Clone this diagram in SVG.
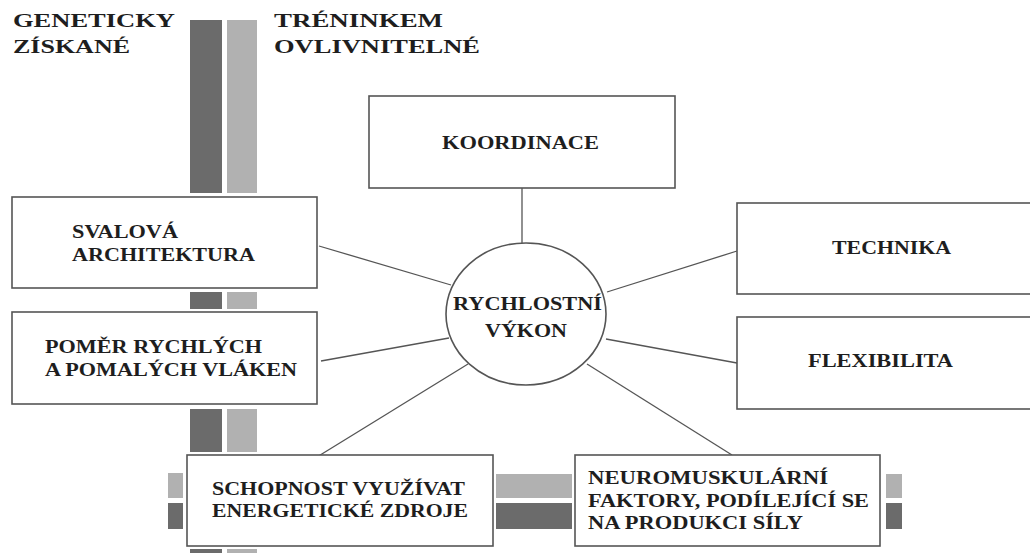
<svg xmlns="http://www.w3.org/2000/svg" width="1030" height="553" viewBox="0 0 1030 553">
<style>
.bg{fill:#ffffff}
.dark{fill:#6b6b6b}
.light{fill:#b1b1b1}
.box{fill:#ffffff;stroke:#555555;stroke-width:1.6}
.conn{stroke:#555555;stroke-width:1.3;fill:none}
.t{font-family:"Liberation Serif","Times New Roman",serif;font-weight:bold;font-size:18px;fill:#1e1e1e}
</style>
<rect class="bg" x="0" y="0" width="1030" height="553"/>
<g id="bars">
<rect class="dark" x="190" y="20" width="32" height="173"/>
<rect class="light" x="227" y="20" width="30" height="173"/>
<rect class="dark" x="190" y="292" width="32" height="17"/>
<rect class="light" x="227" y="292" width="30" height="17"/>
<rect class="dark" x="190" y="409" width="32" height="43"/>
<rect class="light" x="227" y="409" width="30" height="43"/>
<rect class="dark" x="190" y="549" width="32" height="10"/>
<rect class="light" x="227" y="549" width="30" height="10"/>
<rect class="light" x="168" y="473" width="15" height="25"/>
<rect class="dark" x="168" y="503" width="15" height="26"/>
<rect class="light" x="496" y="474" width="76" height="24"/>
<rect class="dark" x="496" y="503" width="76" height="26"/>
<rect class="light" x="886" y="474" width="16" height="24"/>
<rect class="dark" x="886" y="503" width="16" height="26"/>
</g>
<g id="legend">
<text class="t" x="13" y="27" textLength="162" lengthAdjust="spacingAndGlyphs">GENETICKY</text>
<text class="t" x="13" y="53" textLength="117" lengthAdjust="spacingAndGlyphs">ZÍSKANÉ</text>
<text class="t" x="274" y="27" textLength="169" lengthAdjust="spacingAndGlyphs">TRÉNINKEM</text>
<text class="t" x="274" y="53" textLength="206" lengthAdjust="spacingAndGlyphs">OVLIVNITELNÉ</text>
</g>
<g id="connectors">
<line class="conn" x1="522" y1="188" x2="522" y2="243"/>
<line class="conn" x1="319" y1="246" x2="451" y2="285"/>
<line class="conn" x1="321" y1="361" x2="449" y2="338"/>
<line class="conn" x1="317" y1="457" x2="468" y2="364"/>
<line class="conn" x1="607" y1="292" x2="737" y2="251"/>
<line class="conn" x1="606" y1="339" x2="737" y2="363"/>
<line class="conn" x1="587" y1="364" x2="732" y2="455"/>
</g>
<g id="koordinace">
<rect class="box" x="369" y="96" width="306" height="92"/>
<text class="t" x="442" y="149" textLength="157" lengthAdjust="spacingAndGlyphs">KOORDINACE</text>
</g>
<g id="rychlostni-vykon">
<ellipse class="box" cx="526" cy="314" rx="80" ry="71"/>
<text class="t" x="453" y="310" textLength="149" lengthAdjust="spacingAndGlyphs">RYCHLOSTNÍ</text>
<text class="t" x="485" y="337" textLength="82" lengthAdjust="spacingAndGlyphs">VÝKON</text>
</g>
<g id="svalova-architektura">
<rect class="box" x="12" y="197" width="305" height="91"/>
<text class="t" x="72" y="238" textLength="106" lengthAdjust="spacingAndGlyphs">SVALOVÁ</text>
<text class="t" x="72" y="261" textLength="183" lengthAdjust="spacingAndGlyphs">ARCHITEKTURA</text>
</g>
<g id="pomer">
<rect class="box" x="12" y="312" width="305" height="92"/>
<text class="t" x="45" y="353" textLength="217" lengthAdjust="spacingAndGlyphs">POMĚR RYCHLÝCH</text>
<text class="t" x="45" y="376" textLength="252" lengthAdjust="spacingAndGlyphs">A POMALÝCH VLÁKEN</text>
</g>
<g id="schopnost">
<rect class="box" x="187" y="455" width="306" height="91"/>
<text class="t" x="212" y="495" textLength="253" lengthAdjust="spacingAndGlyphs">SCHOPNOST VYUŽÍVAT</text>
<text class="t" x="212" y="517" textLength="256" lengthAdjust="spacingAndGlyphs">ENERGETICKÉ ZDROJE</text>
</g>
<g id="neuromuskularni">
<rect class="box" x="575" y="455" width="305" height="91"/>
<text class="t" x="588" y="484" textLength="240" lengthAdjust="spacingAndGlyphs">NEUROMUSKULÁRNÍ</text>
<text class="t" x="588" y="507" textLength="281" lengthAdjust="spacingAndGlyphs">FAKTORY, PODÍLEJÍCÍ SE</text>
<text class="t" x="588" y="529" textLength="215" lengthAdjust="spacingAndGlyphs">NA PRODUKCI SÍLY</text>
</g>
<g id="technika">
<rect class="box" x="737" y="203" width="310" height="91"/>
<text class="t" x="832" y="254" textLength="119" lengthAdjust="spacingAndGlyphs">TECHNIKA</text>
</g>
<g id="flexibilita">
<rect class="box" x="737" y="317" width="310" height="92"/>
<text class="t" x="808" y="367" textLength="145" lengthAdjust="spacingAndGlyphs">FLEXIBILITA</text>
</g>
</svg>
